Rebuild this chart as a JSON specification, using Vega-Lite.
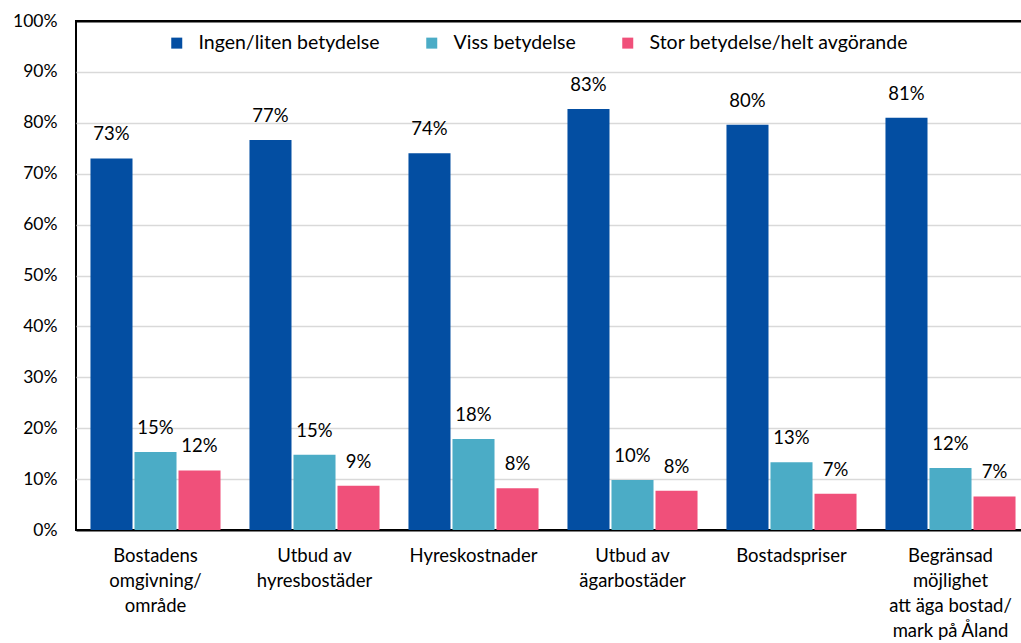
{
  "$schema": "https://vega.github.io/schema/vega-lite/v6.json",
  "width": 954,
  "height": 509,
  "autosize": {"type": "none"},
  "padding": {"left": 76, "top": 21, "right": 0, "bottom": 113},
  "background": "white",
  "config": {"font": "Lato", "view": {"stroke": "black", "strokeWidth": 2}},
  "data": {"values": [
    {"cat": "Bostadens|omgivning/|område", "series": "Ingen/liten betydelse", "value": 0.730},
    {"cat": "Bostadens|omgivning/|område", "series": "Viss betydelse", "value": 0.153},
    {"cat": "Bostadens|omgivning/|område", "series": "Stor betydelse/helt avgörande", "value": 0.117},
    {"cat": "Utbud av|hyresbostäder", "series": "Ingen/liten betydelse", "value": 0.766},
    {"cat": "Utbud av|hyresbostäder", "series": "Viss betydelse", "value": 0.148},
    {"cat": "Utbud av|hyresbostäder", "series": "Stor betydelse/helt avgörande", "value": 0.087},
    {"cat": "Hyreskostnader", "series": "Ingen/liten betydelse", "value": 0.740},
    {"cat": "Hyreskostnader", "series": "Viss betydelse", "value": 0.179},
    {"cat": "Hyreskostnader", "series": "Stor betydelse/helt avgörande", "value": 0.082},
    {"cat": "Utbud av|ägarbostäder", "series": "Ingen/liten betydelse", "value": 0.827},
    {"cat": "Utbud av|ägarbostäder", "series": "Viss betydelse", "value": 0.098},
    {"cat": "Utbud av|ägarbostäder", "series": "Stor betydelse/helt avgörande", "value": 0.077},
    {"cat": "Bostadspriser", "series": "Ingen/liten betydelse", "value": 0.796},
    {"cat": "Bostadspriser", "series": "Viss betydelse", "value": 0.133},
    {"cat": "Bostadspriser", "series": "Stor betydelse/helt avgörande", "value": 0.071},
    {"cat": "Begränsad|möjlighet|att äga bostad/|mark på Åland", "series": "Ingen/liten betydelse", "value": 0.810},
    {"cat": "Begränsad|möjlighet|att äga bostad/|mark på Åland", "series": "Viss betydelse", "value": 0.122},
    {"cat": "Begränsad|möjlighet|att äga bostad/|mark på Åland", "series": "Stor betydelse/helt avgörande", "value": 0.066}
  ]},
  "encoding": {
    "x": {
      "field": "cat", "type": "nominal", "sort": null,
      "scale": {"paddingInner": 0.182, "paddingOuter": 0.091},
      "axis": {
        "title": null, "ticks": false, "domain": false, "labelAngle": 0,
        "labelFontSize": 18.5, "labelColor": "black", "labelPadding": 16,
        "labelLineHeight": 25, "labelExpr": "split(datum.label, '|')",
        "labelBaseline": "top", "labelLimit": 0, "labelOverlap": false
      }
    },
    "xOffset": {
      "field": "series",
      "sort": ["Ingen/liten betydelse", "Viss betydelse", "Stor betydelse/helt avgörande"],
      "scale": {"paddingInner": 0.045}
    },
    "y": {
      "field": "value", "type": "quantitative",
      "scale": {"domain": [0, 1]},
      "axis": {
        "title": null, "ticks": false, "domain": false, "format": ".0%",
        "values": [0, 0.1, 0.2, 0.3, 0.4, 0.5, 0.6, 0.7, 0.8, 0.9, 1],
        "labelFontSize": 17.5, "labelColor": "black", "labelPadding": 19,
        "gridColor": {"condition": {"test": "datum.value === 1 || datum.value === 0", "value": "black"}, "value": "#d9d9d9"},
        "gridWidth": {"condition": {"test": "datum.value === 1 || datum.value === 0", "value": 2}, "value": 1.5}
      }
    }
  },
  "layer": [
    {
      "mark": {"type": "bar"},
      "encoding": {
        "color": {
          "field": "series", "type": "nominal",
          "scale": {
            "domain": ["Ingen/liten betydelse", "Viss betydelse", "Stor betydelse/helt avgörande"],
            "range": ["#034ea2", "#4bacc6", "#f0507a"]
          },
          "legend": {
            "orient": "none", "legendX": 91, "legendY": 12, "direction": "horizontal",
            "title": null, "symbolType": "square", "symbolSize": 121,
            "labelFontSize": 19.5, "labelColor": "black", "labelOffset": 12,
            "columnPadding": 42, "symbolStrokeWidth": 0, "labelLimit": 0
          }
        }
      }
    },
    {
      "mark": {"type": "text", "dy": -14, "fontSize": 18.5, "color": "black", "baseline": "bottom"},
      "encoding": {"text": {"field": "value", "format": ".0%"}}
    }
  ]
}
